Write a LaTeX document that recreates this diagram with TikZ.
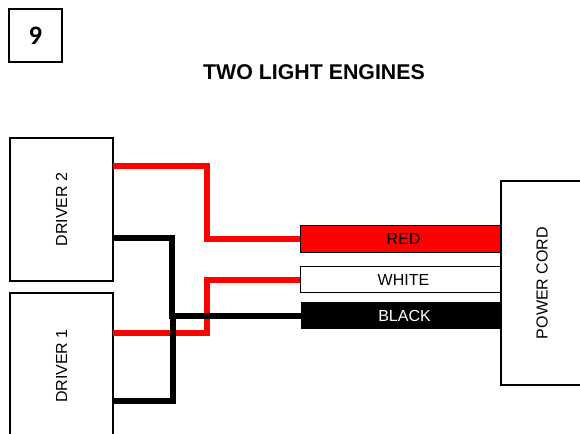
\documentclass[tikz,border=0pt]{standalone}
\usepackage{fontspec}
\setmainfont{Liberation Sans}
\newfontfamily\numfont{Carlito}
\tikzset{
  unitbox/.style={draw=black,line width=1.5pt,fill=white,inner sep=0pt,outer sep=0pt,
    font=\fontsize{12}{14}\selectfont},
  band/.style={draw=black,line width=0.6pt,inner sep=0pt,outer sep=0pt,
    minimum width=155.25pt,minimum height=20pt,font=\fontsize{12}{14}\selectfont},
  redwire/.style={draw=red,line width=4.5pt},
  blackwire/.style={draw=black,line width=4.5pt}
}
\begin{document}
\begin{tikzpicture}[x=0.75pt,y=-0.75pt]
  \useasboundingbox (0,0) rectangle (580,434);
  \clip (0,0) rectangle (580,434);
  \node[unitbox,minimum width=39.75pt,minimum height=39.75pt,font=\numfont\bfseries\fontsize{20}{24}\selectfont] (pagenum) at (35.5,35.5) {9};
  \node[font=\bfseries\fontsize{16}{19}\selectfont,inner sep=0pt] (title) at (314,72) {TWO LIGHT ENGINES};
  % bands run on under the cord box
  \node[band,fill=red] (redband) at (403.5,239) {RED};
  \node[band,fill=white] (whiteband) at (403.5,279.5) {WHITE};
  \node[band,fill=black,text=white] (blackband) at (404.5,315.5) {BLACK};
  \node[unitbox,minimum width=61.5pt,minimum height=153pt] (cord) at (542,283) {\rotatebox{90}{POWER CORD}};
  \node[unitbox,minimum width=77.25pt,minimum height=107.25pt] (drivertwo) at (61.5,209.5) {\rotatebox{90}{DRIVER 2}};
  \node[unitbox,minimum width=77.25pt,minimum height=109.5pt] (driverone) at (61.5,366) {\rotatebox{90}{DRIVER 1}};
  % wires
  \draw[redwire] (drivertwo.east |- 0,166) -- (206.5,166) -- (206.5,239) -- (redband.west);
  \draw[redwire] (driverone.east |- 0,333) -- (206.5,333) -- (206.5,279.5) -- (whiteband.west);
  \draw[blackwire] (drivertwo.east |- 0,238) -- (171.5,238) -- (171.5,315.5) -- (blackband.west);
  \draw[blackwire] (driverone.east |- 0,401) -- (172.5,401) -- (172.5,315.5);
\end{tikzpicture}
\end{document}
